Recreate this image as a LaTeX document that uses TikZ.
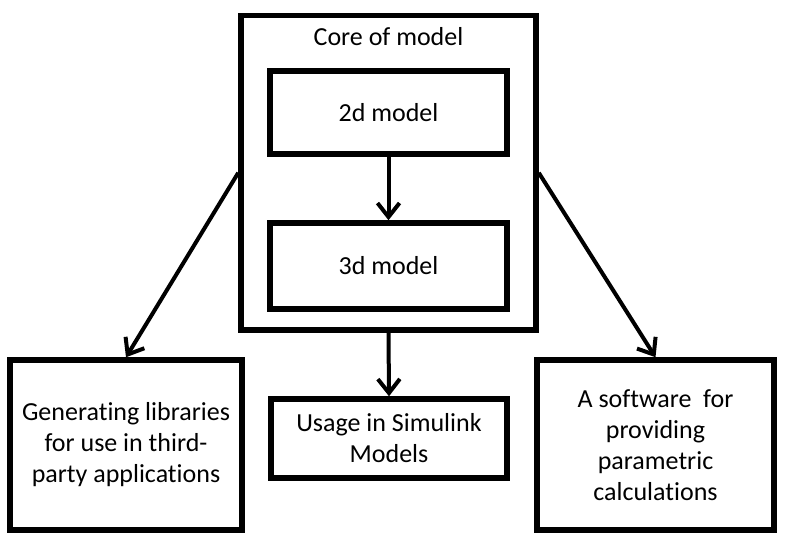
\documentclass[tikz,border=0pt]{standalone}
\usepackage{fontspec}
\setmainfont{Carlito}[Ligatures={NoCommon}]
\usepackage{tikz}
\usetikzlibrary{arrows.meta}

\begin{document}
\begin{tikzpicture}[x=1pt,y=-1pt,
	box/.style={draw,line width=5.5pt,inner sep=0pt,align=center,font=\fontsize{26}{31}\selectfont},
	arr/.style={line width=4pt,-{Straight Barb[length=14pt,width=22pt,line width=4pt]}}]
				\useasboundingbox (0,0) rectangle (786,539);
				\node[box,minimum width=295pt,minimum height=314.5pt] (core) at (388.5,172.75) {};
				\node[font=\fontsize{26}{31}\selectfont] (coretitle) at (388.5,37) {Core of model};
				\node[box,minimum width=237pt,minimum height=83pt] (twod) at (388.5,112.5) {2d model};
				\node[box,minimum width=237pt,minimum height=86pt] (threed) at (388.5,266) {3d model};
				\node[box,minimum width=236pt,minimum height=79pt] (usage) at (389,438.5) {Usage in Simulink\\Models};
				\node[box,minimum width=232pt,minimum height=170pt] (gen) at (126,445) {Generating libraries\\for use in third-\\party applications};
				\node[box,minimum width=237pt,minimum height=170pt] (soft) at (655.5,445) {A software\ \ for\\providing\\parametric\\calculations};
				\draw[arr] (twod.south)-- (threed.north);
				\draw[arr] (core.south)-- (usage.north);
				\draw[arr] (core.west)-- (gen.north);
				\draw[arr] (core.east)-- (soft.north);
			\end{tikzpicture}
\end{document}
